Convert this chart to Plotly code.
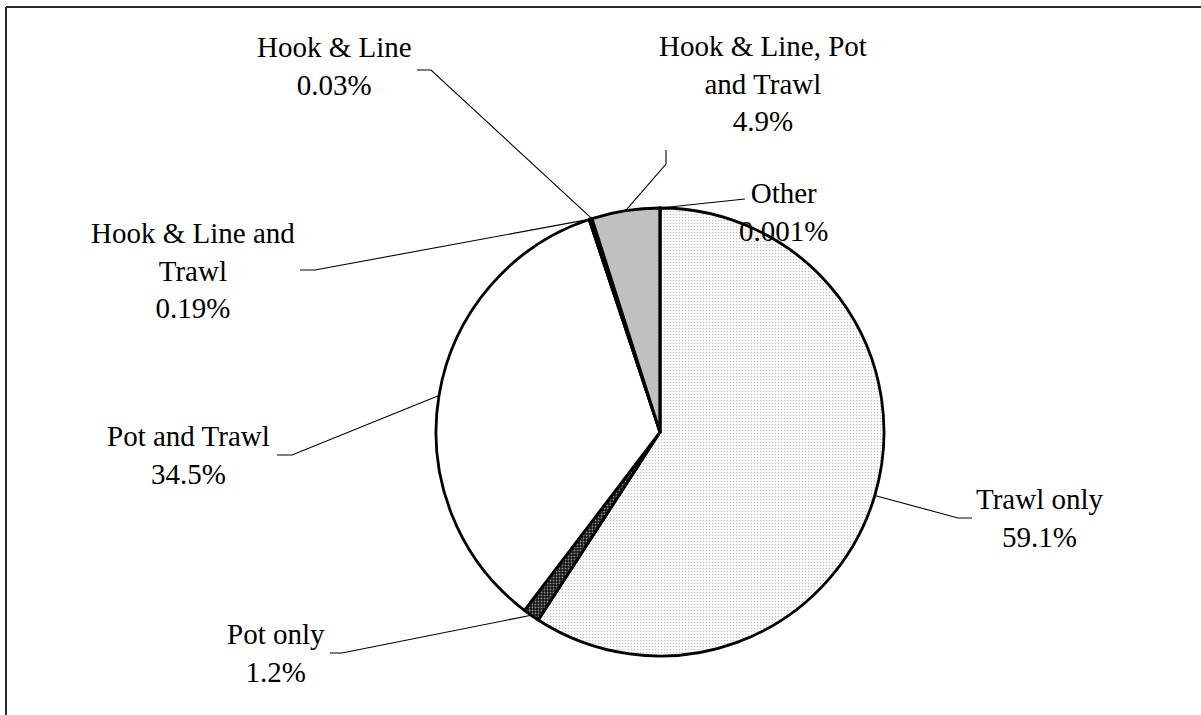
import math
import plotly.graph_objects as go

# Share of vessels by gear combination (percent)
categories = [
    "Trawl only",
    "Pot only",
    "Pot and Trawl",
    "Hook & Line and Trawl",
    "Hook & Line",
    "Hook & Line, Pot and Trawl",
    "Other",
]
shares = [59.1, 1.2, 34.5, 0.19, 0.03, 4.9, 0.001]
share_labels = ["59.1%", "1.2%", "34.5%", "0.19%", "0.03%", "4.9%", "0.001%"]
label_lines = [
    ["Trawl only"],
    ["Pot only"],
    ["Pot and Trawl"],
    ["Hook & Line and", "Trawl"],
    ["Hook & Line"],
    ["Hook & Line, Pot", "and Trawl"],
    ["Other"],
]

W, H = 1201, 715
CX, CY, R = 660, 432, 224          # pie centre and radius in pixels
FONT = "Liberation Serif"
FS = 29

# label block centre and leader elbow (pixels), one per slice
label_pos = [(1040, 518), (276, 653), (188, 455), (193, 270),
             (334, 66), (763, 83), (783, 212)]
elbows = [
    [(972, 518), (958, 518)],
    [(330, 653), (342, 653)],
    [(277, 455), (292, 455)],
    [(300, 270), (315, 270)],
    [(417, 70), (431, 70)],
    [(666, 150), (666, 164)],
    [(745, 199)],
]

fills = dict(
    colors=["white", "#111111", "white", "white", "white", "#C0C0C0", "white"],
    pattern=dict(
        shape=[".", ".", "", "", "", "", ""],
        fgcolor=["#8c8c8c", "white", "black", "black", "black", "black", "black"],
        bgcolor=["white", "#111111", "white", "white", "white", "#C0C0C0", "white"],
        size=[3, 3, 8, 8, 8, 8, 8],
        solidity=[0.25, 0.35, 0.3, 0.3, 0.3, 0.3, 0.3],
        fillmode="overlay",
    ),
)

fig = go.Figure()

fig.add_trace(go.Pie(
    labels=categories,
    values=shares,
    sort=False,
    direction="clockwise",
    rotation=0,
    textinfo="none",
    hoverinfo="label+percent",
    showlegend=False,
    marker=dict(colors=fills["colors"], pattern=fills["pattern"],
                line=dict(color="black", width=2.8)),
    domain=dict(x=[(CX - R) / W, (CX + R) / W],
                y=[1 - (CY + R) / H, 1 - (CY - R) / H]),
))

# leader lines: from each slice's mid-angle on the rim to its label
total = sum(shares)
cum = 0.0
for i, v in enumerate(shares):
    mid = (cum + v / 2) / total
    cum += v
    ang = 2 * math.pi * mid
    px = CX + R * math.sin(ang)
    py = CY - R * math.cos(ang)
    pts = elbows[i] + [(px, py)]
    fig.add_trace(go.Scatter(
        x=[p[0] for p in pts], y=[p[1] for p in pts],
        mode="lines", line=dict(color="black", width=1.1),
        hoverinfo="skip", showlegend=False,
    ))
    lx, ly = label_pos[i]
    fig.add_annotation(
        x=lx, y=ly, xref="x", yref="y",
        text="<br>".join(label_lines[i] + [share_labels[i]]),
        showarrow=False, xanchor="center", yanchor="middle",
        align="center", font=dict(family=FONT, size=FS, color="black"),
    )

# outer chart frame (top and left edges fall inside the page)
fig.add_shape(type="line", xref="x", yref="y", x0=6, y0=7, x1=W, y1=7,
              line=dict(color="#2b2b2b", width=2), layer="above")
fig.add_shape(type="line", xref="x", yref="y", x0=6, y0=7, x1=6, y1=H,
              line=dict(color="#2b2b2b", width=2), layer="above")

fig.update_xaxes(range=[0, W], visible=False, fixedrange=True)
fig.update_yaxes(range=[H, 0], visible=False, fixedrange=True)
fig.update_layout(
    width=W, height=H,
    margin=dict(l=0, r=0, t=0, b=0),
    paper_bgcolor="white", plot_bgcolor="rgba(0,0,0,0)",
    showlegend=False,
)

# keep the page itself from scrolling
page_css = ("document.documentElement.style.overflow='hidden';"
            "document.body.style.overflow='hidden';"
            "document.body.style.margin='0';")
fig.write_html("out.html", post_script=page_css, config={"displayModeBar": False})
